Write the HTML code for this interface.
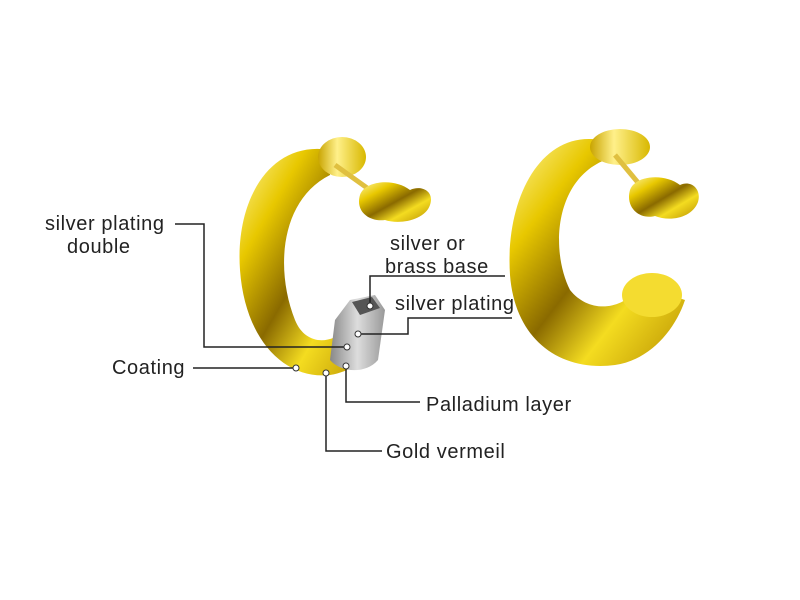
<!DOCTYPE html>
<html><head><style>
body{margin:0;width:800px;height:600px;background:#fff;overflow:hidden}
svg{display:block}
text{font-family:"Liberation Sans",sans-serif;font-size:20px;letter-spacing:0.6px;fill:#222}
</style></head><body>
<svg width="800" height="600" viewBox="0 0 800 600">
<defs>
<linearGradient id="g" x1="0" y1="0" x2="1" y2="1">
<stop offset="0" stop-color="#fff6a0"/><stop offset="0.25" stop-color="#e8c800"/>
<stop offset="0.5" stop-color="#8a6a00"/><stop offset="0.7" stop-color="#f4dc20"/><stop offset="1" stop-color="#b89000"/>
</linearGradient>
<linearGradient id="g2" x1="0" y1="0" x2="1" y2="0">
<stop offset="0" stop-color="#c9a400"/><stop offset="0.4" stop-color="#fff08a"/><stop offset="1" stop-color="#d8b800"/>
</linearGradient>
<linearGradient id="s" x1="0" y1="0" x2="1" y2="0">
<stop offset="0" stop-color="#888"/><stop offset="0.5" stop-color="#ddd"/><stop offset="1" stop-color="#999"/>
</linearGradient>
</defs>
<path d="M330 150 C270 140 235 200 240 270 C245 340 285 380 330 375 C350 372 365 360 372 350 L345 330 C330 345 305 345 295 320 C275 270 280 200 330 175 Z" fill="url(#g)"/>
<ellipse cx="342" cy="157" rx="24" ry="20" fill="url(#g2)"/>
<line x1="335" y1="165" x2="370" y2="190" stroke="#e0c040" stroke-width="5"/>
<path d="M360 195 C365 180 395 178 410 190 C420 185 435 190 430 205 C425 220 400 225 385 220 C370 222 355 212 360 195Z" fill="url(#g)"/>
<path d="M335 320 L350 300 L375 295 L385 310 L378 360 C365 375 340 372 330 360 Z" fill="url(#s)"/>
<path d="M352 302 L372 297 L380 308 L360 315 Z" fill="#555"/>
<path d="M600 140 C540 130 505 200 510 275 C515 340 560 372 615 365 C650 360 675 330 685 300 L640 285 C625 310 590 315 570 290 C550 250 555 180 605 160 Z" fill="url(#g)"/>
<ellipse cx="620" cy="147" rx="30" ry="18" fill="url(#g2)"/>
<ellipse cx="652" cy="295" rx="30" ry="22" fill="#f4dc30"/>
<line x1="615" y1="155" x2="640" y2="185" stroke="#e0c040" stroke-width="5"/>
<path d="M630 190 C635 175 665 173 680 185 C690 180 702 188 698 202 C692 218 670 222 655 216 C640 220 625 208 630 190Z" fill="url(#g)"/>
<g stroke="#222" stroke-width="1.5" fill="none">
<polyline points="175,224 204,224 204,347 346,347"/>
<line x1="193" y1="368" x2="296" y2="368"/>
<polyline points="326,373 326,451 382,451"/>
<polyline points="346,368 346,402 420,402"/>
<polyline points="370,306 370,276 505,276"/>
<polyline points="358,334 408,334 408,318 512,318"/>
</g>
<g fill="#fff" stroke="#333" stroke-width="1">
<circle cx="347" cy="347" r="3"/><circle cx="296" cy="368" r="3"/><circle cx="326" cy="373" r="3"/>
<circle cx="346" cy="366" r="3"/><circle cx="370" cy="306" r="3"/><circle cx="358" cy="334" r="3"/>
</g>
<text x="45" y="230">silver plating</text>
<text x="67" y="253">double</text>
<text x="112" y="374">Coating</text>
<text x="390" y="250">silver or</text>
<text x="385" y="273">brass base</text>
<text x="395" y="310">silver plating</text>
<text x="426" y="411">Palladium layer</text>
<text x="386" y="458">Gold vermeil</text>
</svg>
</body></html>
